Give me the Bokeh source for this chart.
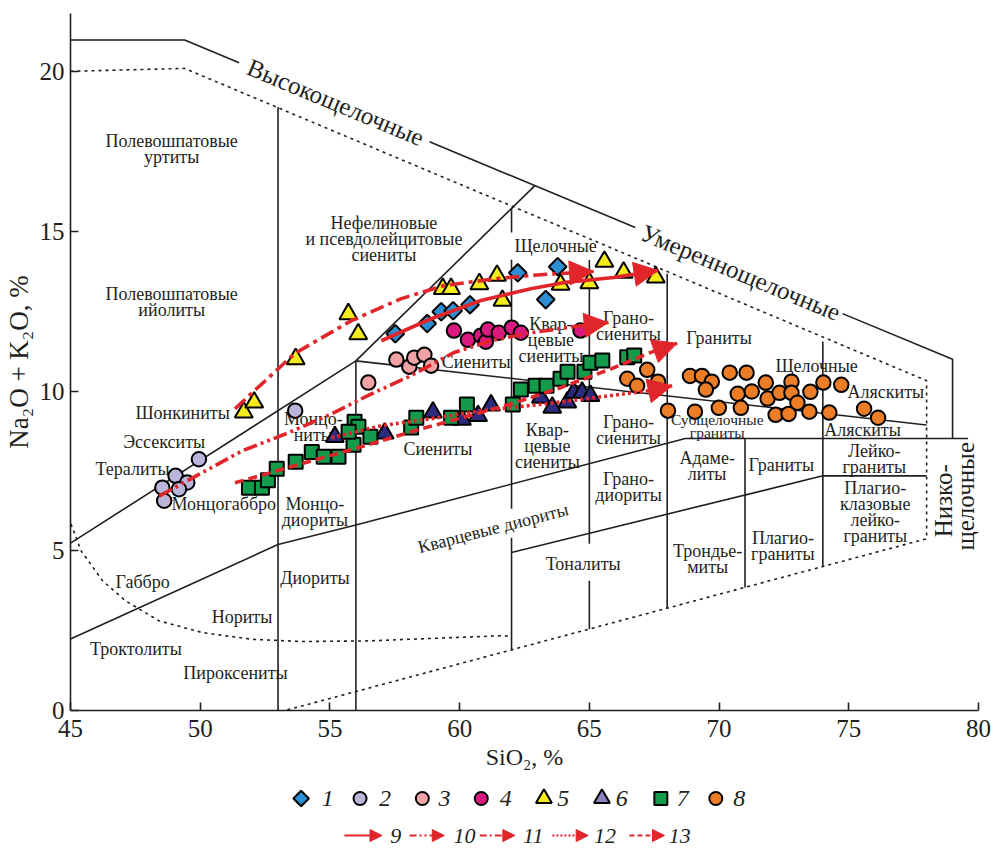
import numpy as np
from bokeh.plotting import figure
from bokeh.models import Range1d, Arrow, NormalHead, FixedTicker, ColumnDataSource
from bokeh.layouts import column
from bokeh.embed import file_html
from bokeh.resources import INLINE
from bokeh.core.properties import value

FONT = "Liberation Serif"
INK = "#231f20"
RED = "#e0262a"

# ---------------- data series (SiO2, Na2O+K2O) ----------------
s1_x = [57.52, 58.75, 59.29, 59.75, 60.40, 62.24, 63.78, 63.32]
s1_y = [11.80, 12.12, 12.49, 12.52, 12.71, 13.71, 13.90, 12.87]
s2_x = [48.54, 49.05, 49.50, 49.18, 48.61, 49.95, 53.66]
s2_y = [6.98, 7.35, 7.14, 6.93, 6.57, 7.87, 9.39]
s3_x = [56.48, 57.56, 58.06, 58.25, 58.64, 58.90]
s3_y = [10.27, 10.99, 10.77, 11.05, 11.14, 10.80]
s4_x = [59.78, 60.32, 60.82, 61.01, 61.09, 61.51, 62.01, 62.36, 64.66]
s4_y = [11.90, 11.61, 11.74, 11.55, 11.93, 11.83, 11.99, 11.83, 11.90]
s5_x = [51.68, 52.08, 53.68, 55.71, 56.09, 59.35, 59.67, 60.76, 61.44, 61.65,
        63.89, 65.00, 65.58, 66.32, 67.56]
s5_y = [9.34, 9.65, 11.01, 12.42, 11.79, 13.21, 13.21, 13.36, 13.62, 12.84,
        13.34, 13.39, 14.06, 13.72, 13.57]
s6_x = [55.19, 57.11, 58.97, 60.09, 60.71, 61.21, 63.13, 63.57, 64.15, 64.40, 64.72, 65.04]
s6_y = [8.57, 8.68, 9.34, 9.11, 9.23, 9.56, 9.80, 9.49, 9.65, 9.96, 9.96, 9.86]
s7_x = [51.88, 52.38, 52.61, 52.95, 53.68, 54.30, 54.76, 55.33, 55.91, 55.95, 56.10,
        55.72, 56.56, 58.13, 58.33, 59.67, 60.28, 62.05, 62.36, 62.93, 63.35, 63.89,
        64.16, 64.81, 65.04, 65.50, 66.46, 66.73]
s7_y = [6.98, 6.98, 7.21, 7.57, 7.79, 8.10, 7.95, 7.95, 8.32, 9.04, 8.89,
        8.73, 8.57, 8.86, 9.17, 9.17, 9.58, 9.58, 10.05, 10.17, 10.17, 10.39,
        10.61, 10.61, 10.89, 10.96, 11.06, 11.12]
s8_x = [66.46, 66.84, 67.23, 67.65, 68.03, 68.88, 69.34, 69.72, 69.49, 69.07, 69.99,
        70.41, 71.06, 70.72, 71.26, 70.84, 71.80, 71.87, 72.33, 72.79, 72.79, 73.02,
        72.18, 72.68, 73.52, 73.48, 74.02, 74.25, 74.71, 75.59, 76.13]
s8_y = [10.39, 10.17, 10.67, 10.30, 9.39, 10.48, 10.48, 10.30, 10.05, 9.36, 9.48,
        10.58, 10.58, 9.92, 9.99, 9.48, 10.27, 9.77, 9.95, 10.30, 9.95, 9.64,
        9.26, 9.29, 9.98, 9.36, 10.27, 9.33, 10.20, 9.45, 9.17]

# trend arrows 9..13
t9_x = [56.98, 58.90, 60.82, 62.74, 64.00, 65.93, 67.65]
t9_y = [11.58, 12.27, 12.84, 13.21, 13.40, 13.56, 13.78]
t10_x = [48.43, 50.08, 51.61, 53.41, 55.06, 56.48, 58.13, 59.78, 61.20, 62.74, 64.66, 65.73]
t10_y = [6.72, 7.45, 8.13, 8.70, 9.29, 9.87, 10.49, 11.21, 11.58, 11.83, 12.05, 12.15]
t11_x = [51.34, 53.64, 55.83, 57.75, 59.40, 61.47, 63.12, 65.16]
t11_y = [9.45, 11.18, 12.21, 12.90, 13.31, 13.53, 13.65, 13.75]
t12_x = [55.06, 56.98, 58.90, 60.82, 63.39, 65.80, 67.34, 68.19]
t12_y = [8.54, 8.92, 9.14, 9.39, 9.61, 9.86, 10.02, 10.17]
t13_x = [51.34, 53.91, 55.95, 58.52, 60.82, 62.36, 63.89, 65.93, 67.35, 68.38]
t13_y = [7.13, 7.73, 8.20, 8.82, 9.33, 9.70, 10.11, 10.73, 11.21, 11.50]

# ---------------- classification field boundaries ----------------
solid_xs = [[45, 49.4, 51.5], [58.84, 66.77], [74.76, 79, 79],
            [45, 53, 56, 68.7, 79.6], [45, 56, 62.9], [56, 78],
            [53, 53], [56, 56], [62, 62], [62, 62], [62, 62],
            [65, 65], [65, 65], [68, 68], [71, 71], [74, 74], [62, 74, 78]]
solid_ys = [[21, 21, 20.29], [17.81, 15.13], [12.43, 11, 8.52],
            [2.24, 5.2, 5.81, 8.52, 8.52], [5.24, 10.95, 16.44], [10.95, 8.94],
            [0, 18.9], [0, 10.95], [15.73, 14.97], [14.12, 6.32], [5.41, 1.93],
            [14.11, 5.22], [4.06, 2.55], [13.68, 3.21], [8.52, 3.85], [11.56, 4.51],
            [4.95, 7.35, 7.35]]
dotted_xs = [[45, 49.4, 78, 78, 53.27],
             [45.02, 45.41, 46.24, 47.13, 48.41, 50.08, 52.0, 53.91, 56.47, 59.0, 61.59, 61.95]]
dotted_ys = [[20.02, 20.11, 10.33, 5.38, 0],
             [5.84, 5.0, 4.06, 3.43, 2.81, 2.44, 2.23, 2.16, 2.18, 2.26, 2.34, 2.33]]

lab_text = ["Полевошпатовые\nуртиты", "Нефелиновые\nи псевдолейцитовые\nсиениты",
            "Полевошпатовые\nийолиты", "Шонкиниты", "Эссекситы", "Тералиты",
            "Монцогаббро", "Монцо-\nниты", "Монцо-\nдиориты", "Сиениты", "Габбро",
            "Диориты", "Нориты", "Троктолиты", "Пироксениты", "Сиениты", "Щелочные",
            "Квар-\nцевые\nсиениты", "Грано-\nсиениты", "Граниты", "Щелочные",
            "Аляскиты", "Грано-\nсиениты", "Квар-\nцевые\nсиениты", "Аляскиты",
            "Адаме-\nлиты", "Граниты", "Лейко-\nграниты", "Грано-\nдиориты",
            "Плагио-\nклазовые\nлейко-\nграниты", "Тоналиты", "Трондье-\nмиты",
            "Плагио-\nграниты"]
lab_x = [48.9, 57.08, 48.9, 49.32, 48.61, 47.39, 50.91, 54.36, 54.42, 59.16, 47.78,
         54.42, 51.61, 47.52, 51.36, 60.64, 63.7, 63.52, 66.51, 70.0, 73.76, 76.43,
         66.51, 63.38, 75.53, 69.54, 72.4, 75.98, 66.51, 76.02, 64.76, 69.56, 72.46]
lab_y = [17.6, 14.77, 12.78, 9.32, 8.4, 7.56, 6.46, 8.87, 6.22, 8.19, 4.01,
         4.16, 2.93, 1.94, 1.19, 10.93, 14.56, 11.6, 12.04, 11.67, 10.8, 9.99,
         8.78, 8.29, 8.78, 7.65, 7.7, 7.88, 7.0, 6.22, 4.6, 4.75, 5.14]

x_ticks = [45, 50, 55, 60, 65, 70, 75, 80]
y_ticks = [0, 5, 10, 15, 20]

# ---------------- main figure ----------------
p = figure(width=991, height=780, x_range=Range1d(45, 80), y_range=Range1d(0, 21.83),
           output_backend="svg", toolbar_location=None,
           min_border_left=68, min_border_right=13, min_border_top=13, min_border_bottom=70)
p.outline_line_color = None
p.grid.visible = False
for ax in (p.xaxis[0], p.yaxis[0]):
    ax.major_tick_in = 8
    ax.major_tick_out = 0
    ax.minor_tick_in = 0
    ax.minor_tick_out = 0
    ax.axis_line_width = 1.6
    ax.axis_line_color = INK
    ax.major_tick_line_color = INK
    ax.major_tick_line_width = 1.6
    ax.major_label_text_font = FONT
    ax.major_label_text_font_size = "25px"
    ax.major_label_text_color = INK
    ax.axis_label_text_font = FONT
    ax.axis_label_text_font_style = "normal"
    ax.axis_label_text_color = INK
p.xaxis.axis_label_text_font_size = "24px"
p.yaxis.axis_label_text_font_size = "27px"
p.xaxis.ticker = FixedTicker(ticks=x_ticks)
p.yaxis.ticker = FixedTicker(ticks=y_ticks)
p.xaxis.axis_label = "SiO₂, %"
p.yaxis.axis_label = "Na₂O + K₂O, %"
p.xaxis.major_label_standoff = 9
p.yaxis.major_label_standoff = 6
p.xaxis.axis_label_standoff = 4
p.yaxis.axis_label_standoff = 3

p.multi_line(solid_xs, solid_ys, line_color=INK, line_width=1.6)
p.multi_line(dotted_xs, dotted_ys, line_color=INK, line_width=1.6, line_dash="3 4")

lab_src = ColumnDataSource(dict(x=lab_x, y=lab_y, text=lab_text))
p.text("x", "y", "text", source=lab_src, text_font=value(FONT), text_font_size="18px",
       text_color=INK, text_align="center", text_baseline="middle", text_line_height=0.8)
p.text(x=[69.93], y=[8.92], text=["Субщелочные\nграниты"], text_font=value(FONT),
       text_font_size="15.5px", text_color=INK, text_align="center", text_baseline="middle",
       text_line_height=0.76)
p.text(x=[61.29], y=[5.71], text=["Кварцевые диориты"], angle=np.deg2rad(14.4),
       text_font=value(FONT), text_font_size="18px", text_color=INK,
       text_align="center", text_baseline="middle")
p.text(x=[55.22, 70.83], y=[19.05, 13.72], text=["Высокощелочные", "Умереннощелочные"],
       angle=np.deg2rad(-22.6), text_font=value(FONT), text_font_size="25px",
       text_color=INK, text_align="center", text_baseline="middle")
p.text(x=[78.67, 79.5], y=[6.57, 6.71], text=["Низко-", "щелочные"], angle=np.pi / 2,
       text_font=value(FONT), text_font_size="25px", text_color=INK,
       text_align="center", text_baseline="middle")

OUT = dict(line_color="black", line_width=2)
p.scatter(s1_x, s1_y, marker="square", angle=np.pi / 4, size=12.5, fill_color="#2c8fd3", **OUT)
p.scatter(s2_x, s2_y, marker="circle", size=14.5, fill_color="#b9b5db", **OUT)
p.scatter(s3_x, s3_y, marker="circle", size=14.5, fill_color="#f2a3a5", **OUT)
p.scatter(s4_x, s4_y, marker="circle", size=14.5, fill_color="#da1a80", **OUT)
p.scatter(s5_x, s5_y, marker="triangle", size=18, fill_color="#f4eb1c", **OUT)
p.scatter(s6_x, s6_y, marker="triangle", size=18, fill_color="#2d2b7e", **OUT)
p.scatter(s7_x, s7_y, marker="square", size=14, fill_color="#139a4a", **OUT)
p.scatter(s8_x, s8_y, marker="circle", size=14.5, fill_color="#ea7d25", **OUT)

trends = [(t9_x, t9_y, "solid"), (t10_x, t10_y, "14 4 3 4 3 4"), (t11_x, t11_y, "14 5 4 5"),
          (t12_x, t12_y, "3 3"), (t13_x, t13_y, "9 5")]
for tx, ty, dash in trends:
    p.line(tx, ty, line_color=RED, line_width=3.6, line_dash=dash)
    p.add_layout(Arrow(end=NormalHead(size=24, fill_color=RED, line_color=RED, line_width=1),
                       x_start=tx[-2], y_start=ty[-2], x_end=tx[-1], y_end=ty[-1],
                       line_color=None))

# ---------------- legend (page-pixel coordinates) ----------------
lg = figure(width=991, height=69, x_range=Range1d(0, 991), y_range=Range1d(849, 780),
            output_backend="svg", toolbar_location=None, min_border=0,
            x_axis_type=None, y_axis_type=None)
lg.outline_line_color = None
lg.grid.visible = False

leg_names = ["1", "2", "3", "4", "5", "6", "7", "8"]
leg_mx = [251.7, 316, 384, 448.3, 516.7, 580, 644.3, 704.3]
leg_tx = [280.7, 343.3, 408.3, 475, 537.7, 601.7, 668.3, 730]
leg_marker = ["square", "circle", "circle", "circle", "triangle", "triangle", "square", "circle"]
leg_fill = ["#2c8fd3", "#b9b5db", "#f2a3a5", "#da1a80", "#f4eb1c", "#8a84c0", "#139a4a", "#ea7d25"]
leg_size = [11, 13, 13, 13, 16, 16, 13, 13]
leg_angle = [np.pi / 4, 0, 0, 0, 0, 0, 0, 0]
row1 = 798
for mx, mk, fc, sz, an in zip(leg_mx, leg_marker, leg_fill, leg_size, leg_angle):
    lg.scatter([mx], [row1], marker=mk, size=sz, angle=an, fill_color=fc,
               line_color="black", line_width=2)
lg.text(x=leg_tx, y=[row1] * 8, text=leg_names, text_font=value(FONT), text_font_size="24px",
        text_font_style="italic", text_color=INK, text_align="center", text_baseline="middle")

arr_names = ["9", "10", "11", "12", "13"]
arr_x0 = [299, 370, 446.7, 526, 610]
arr_x1 = [340, 408, 485, 565, 648.3]
arr_tx = [355, 430, 505, 583.3, 665]
arr_dash = ["solid", "7 3 2 3 2 3", "7 3 2 3", "2 2", "5 3"]
row2 = 835
for x0, x1, dash in zip(arr_x0, arr_x1, arr_dash):
    lg.line([x0, x1 - 8], [row2, row2], line_color=RED, line_width=2.2, line_dash=dash)
    lg.add_layout(Arrow(end=NormalHead(size=12, fill_color=RED, line_color=RED, line_width=1),
                        x_start=x1 - 12, y_start=row2, x_end=x1, y_end=row2, line_color=None))
lg.text(x=arr_tx, y=[row2] * 5, text=arr_names, text_font=value(FONT), text_font_size="22px",
        text_font_style="italic", text_color=INK, text_align="center", text_baseline="middle")

layout = column(p, lg)
open("out.html", "w").write(file_html(layout, INLINE))
